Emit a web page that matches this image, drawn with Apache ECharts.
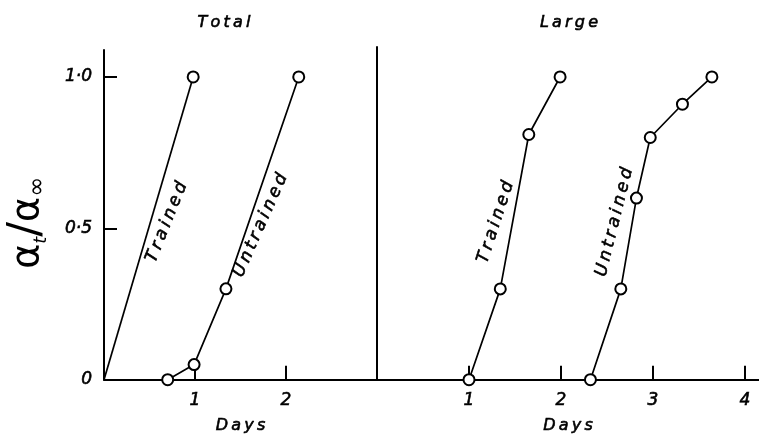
<!DOCTYPE html>
<html>
<head>
<meta charset="utf-8">
<script src="https://cdn.jsdelivr.net/npm/echarts@6/dist/echarts.min.js"></script>
<style>
  html, body { margin: 0; padding: 0; background: #fff; }
  #chart { width: 759px; height: 439px; }
</style>
</head>
<body>
<div id="chart"></div>
<script>
// Fraction of final rotation (alpha_t / alpha_inf) against time in days
const panelTitles = ['Total', 'Large'];
const yTicks = [0, 0.5, 1.0];
const yTickLabels = ['0', '0·5', '1·0'];
const totalDayTicks = [1, 2];
const largeDayTicks = [1, 2, 3, 4];

// Total panel
const totalTrained = [[0, 0], [0.98, 1.0]];
const totalUntrained = [[0.70, 0], [0.99, 0.05], [1.34, 0.30], [2.14, 1.0]];

// Large panel
const largeTrained = [[1.00, 0], [1.34, 0.30], [1.65, 0.81], [1.99, 1.0]];
const largeUntrained = [[2.32, 0], [2.65, 0.30], [2.82, 0.60], [2.97, 0.80], [3.32, 0.91], [3.64, 1.0]];

// Curve names written along each line: [x, y, angle]
const curveNames = [
  { panel: 0, text: 'Trained',   at: [0.69, 0.52], angle: 68 },
  { panel: 0, text: 'Untrained', at: [1.72, 0.51], angle: 66 },
  { panel: 1, text: 'Trained',   at: [1.29, 0.52], angle: 72 },
  { panel: 1, text: 'Untrained', at: [2.58, 0.52], angle: 76 }
];

const FONT = 'DejaVu Sans';
const ink = '#000';

// spread letters a little, like hand lettering
const spaced = s => s.split('').join('\u2009');

// pen-like lettering: regular italic with a thin outline to thicken strokes
const pen = (size) => ({
  fontFamily: FONT, fontStyle: 'italic', fontWeight: 'normal', fontSize: size,
  color: ink, textBorderColor: ink, textBorderWidth: 0.6
});

const chart = echarts.init(document.getElementById('chart'), null, { renderer: 'canvas' });

function lineSeries(idx, data, hideFirst) {
  return {
    type: 'line',
    xAxisIndex: idx,
    yAxisIndex: idx,
    data: data.map((p, i) => (hideFirst && i === 0) ? { value: p, symbol: 'none' } : p),
    symbol: 'emptyCircle',
    symbolSize: 11,
    showAllSymbol: true,
    lineStyle: { color: ink, width: 1.7 },
    itemStyle: { color: ink, borderColor: ink, borderWidth: 1.7 },
    z: 3,
    animation: false
  };
}

function nameSeries(idx) {
  return curveNames.filter(c => c.panel === idx).map(c => ({
    type: 'scatter',
    xAxisIndex: idx,
    yAxisIndex: idx,
    symbol: 'circle',
    symbolSize: 1,
    itemStyle: { color: '#fff', opacity: 1 },
    data: [{ value: c.at }],
    label: Object.assign({
      show: true,
      position: 'inside',
      formatter: spaced(c.text),
      rotate: c.angle
    }, pen(17)),
    silent: true,
    z: 4,
    animation: false
  }));
}

const axisLineStyle = { show: true, lineStyle: { color: ink, width: 2 } };
const tickLabelStyle = pen(17);
const headStyle = pen(16);
const daysName = {
  name: spaced('Days'),
  nameLocation: 'middle',
  nameGap: 38,
  nameTextStyle: headStyle
};

chart.setOption({
  backgroundColor: '#fff',
  title: [
    { text: spaced(panelTitles[0]), left: 219, top: 10, textAlign: 'center', textStyle: headStyle },
    { text: spaced(panelTitles[1]), left: 564, top: 10, textAlign: 'center', textStyle: headStyle }
  ],
  grid: [
    { left: 104, top: 50, width: 273, height: 330, containLabel: false },
    { left: 377, top: 47, width: 382, height: 333, containLabel: false }
  ],
  xAxis: [
    Object.assign({
      gridIndex: 0, type: 'value', min: 0, max: 3.0,
      axisLine: axisLineStyle,
      axisTick: { show: true, inside: true, length: 14, customValues: totalDayTicks, lineStyle: { color: ink, width: 2 } },
      axisLabel: Object.assign({ customValues: totalDayTicks, margin: 12 }, tickLabelStyle),
      splitLine: { show: false }
    }, daysName),
    Object.assign({
      gridIndex: 1, type: 'value', min: 0, max: 4.152,
      axisLine: axisLineStyle,
      axisTick: { show: true, inside: true, length: 14, customValues: largeDayTicks, lineStyle: { color: ink, width: 2 } },
      axisLabel: Object.assign({ customValues: largeDayTicks, margin: 12 }, tickLabelStyle),
      splitLine: { show: false }
    }, daysName)
  ],
  yAxis: [
    {
      gridIndex: 0, type: 'value', min: 0, max: 1.089,
      axisLine: axisLineStyle,
      axisTick: { show: true, inside: true, length: 13, customValues: yTicks, lineStyle: { color: ink, width: 2 } },
      axisLabel: Object.assign({
        customValues: yTicks,
        margin: 12,
        formatter: v => yTickLabels[yTicks.indexOf(Math.round(v * 10) / 10)]
      }, tickLabelStyle),
      splitLine: { show: false },
      name: '{a|α}{s|t}{sl|/}{a|α}{i|∞}',
      nameLocation: 'middle',
      nameRotate: 90,
      nameGap: 54,
      nameTextStyle: {
        color: ink,
        padding: [0, 16, 0, 0],
        rich: {
          a: { fontFamily: FONT, fontSize: 38, color: ink, lineHeight: 44 },
          s: { fontFamily: FONT, fontStyle: 'italic', fontSize: 18, color: ink, lineHeight: 44, verticalAlign: 'bottom', padding: [18, 0, 0, 0] },
          sl: { fontFamily: FONT, fontSize: 44, color: ink, lineHeight: 44 },
          i: { fontFamily: FONT, fontSize: 24, color: ink, lineHeight: 44, verticalAlign: 'bottom', padding: [8, 0, 0, 0] }
        }
      }
    },
    {
      gridIndex: 1, type: 'value', min: 0, max: 1.099,
      axisLine: axisLineStyle,
      axisTick: { show: false },
      axisLabel: { show: false },
      splitLine: { show: false }
    }
  ],
  series: [
    lineSeries(0, totalTrained, true),
    lineSeries(0, totalUntrained, false),
    lineSeries(1, largeTrained, false),
    lineSeries(1, largeUntrained, false),
    ...nameSeries(0),
    ...nameSeries(1)
  ],
  animation: false
});
</script>
</body>
</html>
